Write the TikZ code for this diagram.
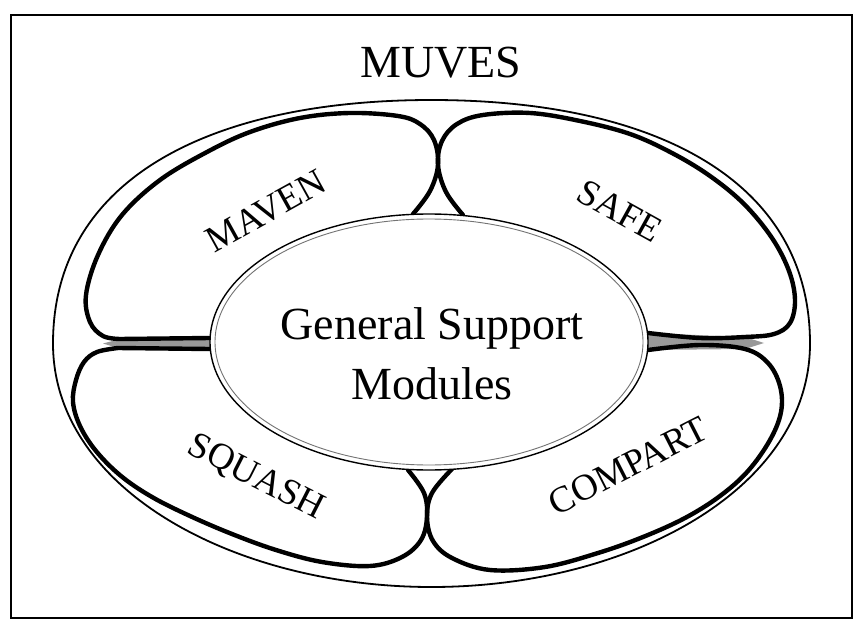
\documentclass[tikz,border=0pt]{standalone}
\usepackage{fontspec}
\setmainfont{Liberation Serif}
\usepackage{tikz}

\begin{document}
\begin{tikzpicture}[
    x=0.5pt, y=-0.5pt,
    every node/.style={inner sep=0pt},
    frame/.style={draw, line width=0.7pt},
    rim/.style={draw, line width=0.9pt},
    lobe/.style={draw, line width=2.2pt, line join=round, line cap=round},
    seam/.style={fill=black!40},
    modname/.style={font=\fontsize{18.5}{22}\selectfont}
]

\useasboundingbox (0,0) rectangle (862,626);

% frame round the whole picture
\draw[frame] (11,15) rectangle (852,618);

% title
\node[font=\fontsize{23}{28}\selectfont, anchor=base] (title) at (441,78) {MUVES};

% outer rim
\draw[rim] (431.5,100) .. controls (651,100) and (810,177.9) .. (810,343.5)
    .. controls (810,489.6) and (628.3,587) .. (431.5,587)
    .. controls (234.7,587) and (53,489.6) .. (53,343.5)
    .. controls (53,177.9) and (212,100) .. cycle;

% points where the lobes kiss
\coordinate (topkiss) at (438,165);
\coordinate (botkiss) at (427,517);

% seams between the side lobes
\fill[seam] (210,338) -- (120,339) -- (103,343.5) -- (118,348) -- (210,349) -- cycle;
\fill[seam] (648,333) -- (745,337) -- (764,343) -- (745,349) -- (648,350) -- cycle;

% Lobe 1: MAVEN (top-left)
\draw[lobe] plot[smooth, tension=0.6] coordinates {
    (413,214) (430,191) (topkiss) (434,140) (420,124) (398,116)
    (350,113) (300,118) (250,132) (207,152) (160,180) (122,215)
    (98,255) (86,295) (90,322) (103,336) (120,339)} -- (210,338);

% Lobe 2: SAFE (top-right)
\draw[lobe] plot[smooth, tension=0.6] coordinates {
    (463,215) (446,192) (topkiss) (442,141) (457,124) (483,115)
    (530,113) (580,121) (630,134) (672,153) (710,176) (744,204)
    (772,238) (789,271) (795,300) (790,323) (774,334) (745,337)
    (700,338) (648,333)};

% Lobe 3: SQUASH (bottom-left)
\draw[lobe] (210,349) -- plot[smooth, tension=0.6] coordinates {
    (118,348) (97,352) (84,362) (76,380) (73,402) (80,426)
    (96,451) (121,476) (152,497) (190,516) (232,534) (276,550)
    (322,562) (370,566) (402,557) (421,540) (botkiss) (424,493)
    (408,470)};

% Lobe 4: COMPART (bottom-right)
\draw[lobe] plot[smooth, tension=0.6] coordinates {
    (452,469) (432,493) (botkiss) (433,541) (452,558) (490,570)
    (545,567) (598,553) (643,537) (685,518) (720,496) (748,471)
    (770,440) (781,412) (780,386) (768,363) (745,349) (700,345)
    (648,350)};

% central region, double rim
\draw[fill=white, line width=0.7pt] (429,342) ellipse [x radius=109.5pt, y radius=64pt];
\draw[black!55, line width=0.45pt] (429,342) ellipse [x radius=107pt, y radius=61.5pt];

\node[font=\fontsize{23}{30}\selectfont, align=center] (gsm) at (432,354)
    {General Support\\Modules};

% module names
\node[modname, rotate=29] (maven) at (266,211) {MAVEN};
\node[modname, rotate=-29] (safe) at (620,211) {SAFE};
\node[modname, rotate=-27] (squash) at (256,478) {SQUASH};
\node[modname, rotate=27] (compart) at (628,466) {COMPART};

\end{tikzpicture}
\end{document}
